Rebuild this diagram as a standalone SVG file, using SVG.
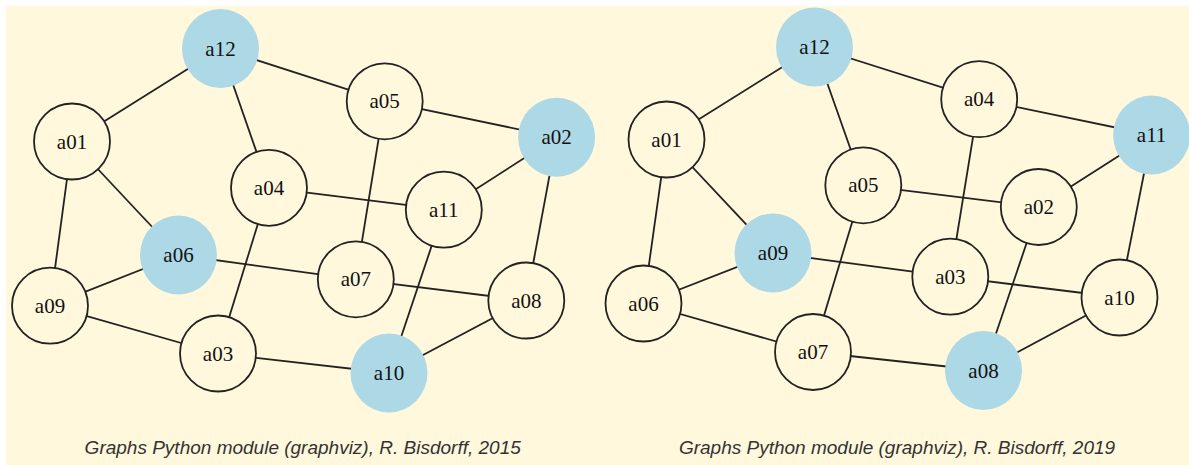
<svg xmlns="http://www.w3.org/2000/svg" width="1189" height="465" viewBox="0 0 1189 465">
<style>
.bg{fill:#fff8dc}
.e line{stroke:#222;stroke-width:1.8}
.n ellipse{fill:#fff8dc;stroke:#222;stroke-width:1.8}
.n.h ellipse{fill:#add8e6;stroke:none}
.n text{font-family:"Liberation Serif","Times New Roman",serif;font-size:21px;fill:#111;text-anchor:middle}
.cap{font-family:"Liberation Sans",Arial,sans-serif;font-style:italic;font-size:19px;fill:#333;text-anchor:middle}
</style>
<rect width="1189" height="465" fill="#ffffff"/>
<rect class="bg" x="6" y="6" width="1183" height="459"/>
<g id="connectors-left" class="e">
<line x1="220.5" y1="48.5" x2="72" y2="141.5"/>
<line x1="220.5" y1="48.5" x2="384.7" y2="101.3"/>
<line x1="220.5" y1="48.5" x2="269" y2="187.8"/>
<line x1="72" y1="141.5" x2="50" y2="305.7"/>
<line x1="72" y1="141.5" x2="178.5" y2="255"/>
<line x1="384.7" y1="101.3" x2="556.6" y2="137.3"/>
<line x1="384.7" y1="101.3" x2="355.8" y2="279.3"/>
<line x1="269" y1="187.8" x2="443.8" y2="209.7"/>
<line x1="269" y1="187.8" x2="218" y2="353.5"/>
<line x1="556.6" y1="137.3" x2="443.8" y2="209.7"/>
<line x1="556.6" y1="137.3" x2="526.3" y2="300.5"/>
<line x1="443.8" y1="209.7" x2="389" y2="373"/>
<line x1="178.5" y1="255" x2="50" y2="305.7"/>
<line x1="178.5" y1="255" x2="355.8" y2="279.3"/>
<line x1="355.8" y1="279.3" x2="526.3" y2="300.5"/>
<line x1="50" y1="305.7" x2="218" y2="353.5"/>
<line x1="218" y1="353.5" x2="389" y2="373"/>
<line x1="389" y1="373" x2="526.3" y2="300.5"/>
</g>
<g id="connectors-right" class="e">
<line x1="814.5" y1="47" x2="666.5" y2="139.5"/>
<line x1="814.5" y1="47" x2="979.2" y2="99.2"/>
<line x1="814.5" y1="47" x2="863.3" y2="185.3"/>
<line x1="666.5" y1="139.5" x2="643.5" y2="303.5"/>
<line x1="666.5" y1="139.5" x2="773" y2="253"/>
<line x1="979.2" y1="99.2" x2="1151.6" y2="135"/>
<line x1="979.2" y1="99.2" x2="950.3" y2="276.7"/>
<line x1="863.3" y1="185.3" x2="1038.8" y2="207"/>
<line x1="863.3" y1="185.3" x2="813" y2="352"/>
<line x1="1151.6" y1="135" x2="1038.8" y2="207"/>
<line x1="1151.6" y1="135" x2="1119.5" y2="297.5"/>
<line x1="1038.8" y1="207" x2="983.5" y2="370.5"/>
<line x1="773" y1="253" x2="643.5" y2="303.5"/>
<line x1="773" y1="253" x2="950.3" y2="276.7"/>
<line x1="950.3" y1="276.7" x2="1119.5" y2="297.5"/>
<line x1="643.5" y1="303.5" x2="813" y2="352"/>
<line x1="813" y1="352" x2="983.5" y2="370.5"/>
<line x1="983.5" y1="370.5" x2="1119.5" y2="297.5"/>
</g>
<g id="L-a12" class="n h"><ellipse cx="220.5" cy="48.5" rx="38.5" ry="39.5"/><text x="220.5" y="55.5">a12</text></g>
<g id="L-a01" class="n"><ellipse cx="72" cy="141.5" rx="38" ry="38"/><text x="72" y="148.5">a01</text></g>
<g id="L-a05" class="n"><ellipse cx="384.7" cy="101.3" rx="38" ry="38"/><text x="384.7" y="108.3">a05</text></g>
<g id="L-a02" class="n h"><ellipse cx="556.6" cy="137.3" rx="38.5" ry="39.5"/><text x="556.6" y="144.3">a02</text></g>
<g id="L-a04" class="n"><ellipse cx="269" cy="187.8" rx="38" ry="38"/><text x="269" y="194.8">a04</text></g>
<g id="L-a11" class="n"><ellipse cx="443.8" cy="209.7" rx="38" ry="38"/><text x="443.8" y="216.7">a11</text></g>
<g id="L-a06" class="n h"><ellipse cx="178.5" cy="255" rx="38.5" ry="39.5"/><text x="178.5" y="262">a06</text></g>
<g id="L-a07" class="n"><ellipse cx="355.8" cy="279.3" rx="38" ry="38"/><text x="355.8" y="286.3">a07</text></g>
<g id="L-a08" class="n"><ellipse cx="526.3" cy="300.5" rx="38" ry="38"/><text x="526.3" y="307.5">a08</text></g>
<g id="L-a09" class="n"><ellipse cx="50" cy="305.7" rx="38" ry="38"/><text x="50" y="312.7">a09</text></g>
<g id="L-a03" class="n"><ellipse cx="218" cy="353.5" rx="38" ry="38"/><text x="218" y="360.5">a03</text></g>
<g id="L-a10" class="n h"><ellipse cx="389" cy="373" rx="38.5" ry="39.5"/><text x="389" y="380">a10</text></g>
<g id="R-a12" class="n h"><ellipse cx="814.5" cy="47" rx="38.5" ry="39.5"/><text x="814.5" y="54">a12</text></g>
<g id="R-a01" class="n"><ellipse cx="666.5" cy="139.5" rx="38" ry="38"/><text x="666.5" y="146.5">a01</text></g>
<g id="R-a04" class="n"><ellipse cx="979.2" cy="99.2" rx="38" ry="38"/><text x="979.2" y="106.2">a04</text></g>
<g id="R-a11" class="n h"><ellipse cx="1151.6" cy="135" rx="38.5" ry="39.5"/><text x="1151.6" y="142">a11</text></g>
<g id="R-a05" class="n"><ellipse cx="863.3" cy="185.3" rx="38" ry="38"/><text x="863.3" y="192.3">a05</text></g>
<g id="R-a02" class="n"><ellipse cx="1038.8" cy="207" rx="38" ry="38"/><text x="1038.8" y="214">a02</text></g>
<g id="R-a09" class="n h"><ellipse cx="773" cy="253" rx="38.5" ry="39.5"/><text x="773" y="260">a09</text></g>
<g id="R-a03" class="n"><ellipse cx="950.3" cy="276.7" rx="38" ry="38"/><text x="950.3" y="283.7">a03</text></g>
<g id="R-a10" class="n"><ellipse cx="1119.5" cy="297.5" rx="38" ry="38"/><text x="1119.5" y="304.5">a10</text></g>
<g id="R-a06" class="n"><ellipse cx="643.5" cy="303.5" rx="38" ry="38"/><text x="643.5" y="310.5">a06</text></g>
<g id="R-a07" class="n"><ellipse cx="813" cy="352" rx="38" ry="38"/><text x="813" y="359">a07</text></g>
<g id="R-a08" class="n h"><ellipse cx="983.5" cy="370.5" rx="38.5" ry="39.5"/><text x="983.5" y="377.5">a08</text></g>
<text class="cap" x="302.7" y="454">Graphs Python module (graphviz), R. Bisdorff, 2015</text>
<text class="cap" x="897" y="454">Graphs Python module (graphviz), R. Bisdorff, 2019</text>
</svg>
